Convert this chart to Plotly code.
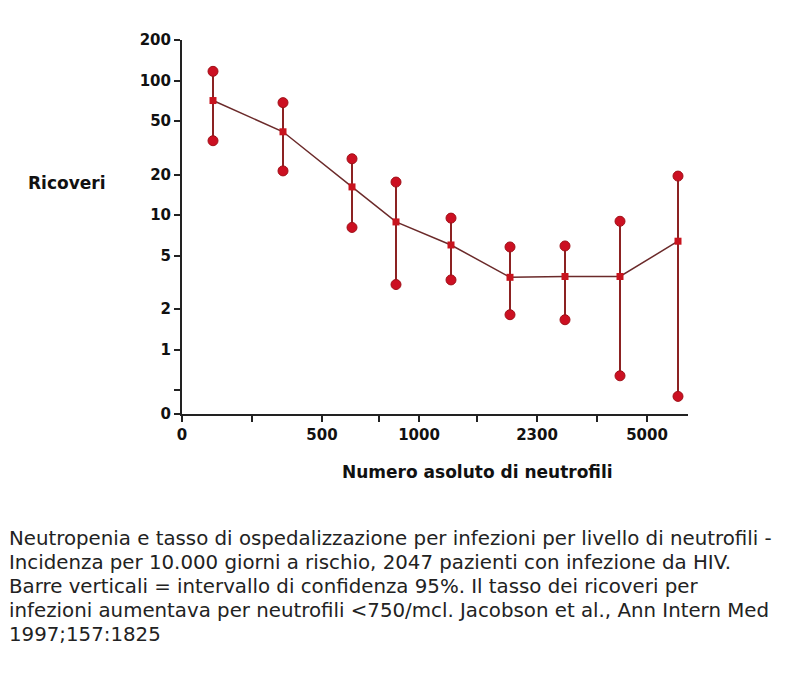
import plotly.graph_objects as go

# x positions of the groups along the (irregular) neutrophil axis, in axis units
x_pos = [31, 101, 170, 214, 269, 328, 383, 438, 496]
# hospitalisation rate (per 10,000 days at risk) and 95% CI
rate = [71, 41.6, 16.2, 8.9, 6.0, 3.45, 3.5, 3.5, 6.4]
ci_high = [117, 68.5, 26.2, 17.6, 9.5, 5.8, 5.9, 9.0, 19.5]
ci_low = [35.7, 21.3, 8.1, 3.05, 3.3, 1.82, 1.67, 0.64, 0.45]

# axis ticks
x_tickvals = [0, 70, 140, 197, 237, 295, 355, 415, 465]
x_ticktext = ['0', '', '500', '', '1000', '', '2300', '', '5000']
y_tickvals = [0.333, 0.5, 1, 2, 5, 10, 20, 50, 100, 200]
y_ticktext = ['0', '', '1', '2', '5', '10', '20', '50', '100', '200']

caption_lines = [
    'Neutropenia e tasso di ospedalizzazione per infezioni per livello di neutrofili -',
    'Incidenza per 10.000 giorni a rischio, 2047 pazienti con infezione da HIV.',
    'Barre verticali = intervallo di confidenza 95%. Il tasso dei ricoveri per',
    'infezioni aumentava per neutrofili &lt;750/mcl. Jacobson et al., Ann Intern Med',
    '1997;157:1825',
]

# page offset (body margin) and plot area in pixels
OFF = 8
L, R, T, B = 182, 688, 40, 414
W, H = 800 - 2 * OFF, 675 - 2 * OFF


def px(x):
    return (x - L) / (R - L)


def py(y):
    return (B - y) / (B - T)


font = 'DejaVu Sans'

fig = go.Figure()

fig.add_trace(go.Scatter(
    x=x_pos, y=rate, mode='lines+markers',
    line=dict(color='#6b2a2a', width=1.5),
    marker=dict(symbol='square', size=7, color='#c8141e'),
    error_y=dict(type='data', symmetric=False,
                 array=[h - r for h, r in zip(ci_high, rate)],
                 arrayminus=[r - l for r, l in zip(rate, ci_low)],
                 color='#8c2222', thickness=2, width=0),
    showlegend=False, cliponaxis=False
))

fig.add_trace(go.Scatter(
    x=x_pos + x_pos, y=ci_high + ci_low, mode='markers',
    marker=dict(symbol='circle', size=10, color='#cc1022',
                line=dict(color='#a01018', width=1)),
    showlegend=False, cliponaxis=False
))

annotations = [
    dict(text='Ricoveri', x=px(26), y=py(183), xref='paper', yref='paper',
         xanchor='left', yanchor='middle', showarrow=False,
         font=dict(size=17, weight='bold', family=font)),
    dict(text='Numero asoluto di neutrofili', x=px(477), y=py(472),
         xref='paper', yref='paper', xanchor='center', yanchor='middle',
         showarrow=False, font=dict(size=17, weight='bold', family=font)),
]
for i, line in enumerate(caption_lines):
    annotations.append(dict(
        text=line, x=px(7), y=py(538 + 24 * i), xref='paper', yref='paper',
        xanchor='left', yanchor='middle', align='left', showarrow=False,
        font=dict(size=19.8, family=font, color='#222222')))

fig.update_layout(
    width=W, height=H,
    margin=dict(l=L - OFF, r=800 - R - OFF, t=T - OFF, b=675 - B - OFF),
    paper_bgcolor='white', plot_bgcolor='white',
    font=dict(family=font, color='#111111'),
    xaxis=dict(range=[0, R - L], tickvals=x_tickvals, ticktext=x_ticktext,
               showgrid=False, zeroline=False, showline=True,
               linecolor='#222222', linewidth=2, ticks='outside',
               ticklen=6, tickwidth=2, tickcolor='#222222',
               tickfont=dict(size=15, weight='bold', family=font)),
    yaxis=dict(type='log', range=[-0.4776, 2.301],
               tickvals=y_tickvals, ticktext=y_ticktext,
               showgrid=False, zeroline=False, showline=True,
               linecolor='#222222', linewidth=2, ticks='outside',
               ticklen=6, tickwidth=2, tickcolor='#222222',
               tickfont=dict(size=15, weight='bold', family=font)),
    annotations=annotations,
)

fig.write_html('out.html')
